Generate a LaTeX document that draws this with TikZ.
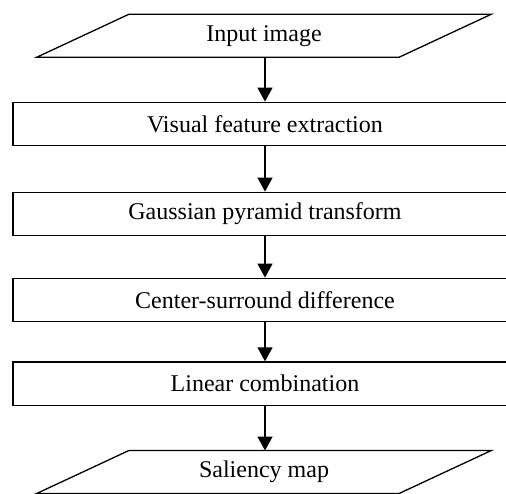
\documentclass[tikz,border=0pt]{standalone}
\usepackage{fontspec}
\setmainfont{Liberation Serif}
\usetikzlibrary{arrows.meta}
\begin{document}
\begin{tikzpicture}[x=1pt,y=-1pt,
  procbox/.style={draw,line width=1.3pt,minimum width=504pt,minimum height=43.5pt,inner sep=0pt,font=\fontsize{24}{27}\selectfont},
  iobox/.style={draw=none,minimum width=362pt,minimum height=42.5pt,inner sep=0pt,font=\fontsize{24}{27}\selectfont},
  ioedge/.style={line width=1.3pt,line join=miter},
  flow/.style={line width=1.3pt,-{Triangle[width=15pt,length=14pt]}}
]
\useasboundingbox (0,0) rectangle (506,494);
\clip (0,0) rectangle (506,494);
\node[iobox] (in) at (264,35.75) {Input image};
\draw[ioedge] ([xshift=-46pt]in.south west) -- ([xshift=-46pt]in.south east) -- ([xshift=46pt]in.north east) -- ([xshift=46pt]in.north west) -- cycle;
\node[procbox] (b1) at (265,124) {Visual feature extraction};
\node[procbox] (b2) at (265,214) {Gaussian pyramid transform};
\node[procbox] (b3) at (265,300) {Center-surround difference};
\node[procbox] (b4) at (265,383.75) {Linear combination};
\node[iobox] (out) at (264,472) {Saliency map};
\draw[ioedge] ([xshift=-46pt]out.south west) -- ([xshift=-46pt]out.south east) -- ([xshift=46pt]out.north east) -- ([xshift=46pt]out.north west) -- cycle;
\draw[flow] (in.south -| b1.north) -- (b1.north);
\draw[flow] (b1.south) -- (b2.north);
\draw[flow] (b2.south) -- (b3.north);
\draw[flow] (b3.south) -- (b4.north);
\draw[flow] (b4.south) -- (out.north -| b4.south);
\end{tikzpicture}
\end{document}
